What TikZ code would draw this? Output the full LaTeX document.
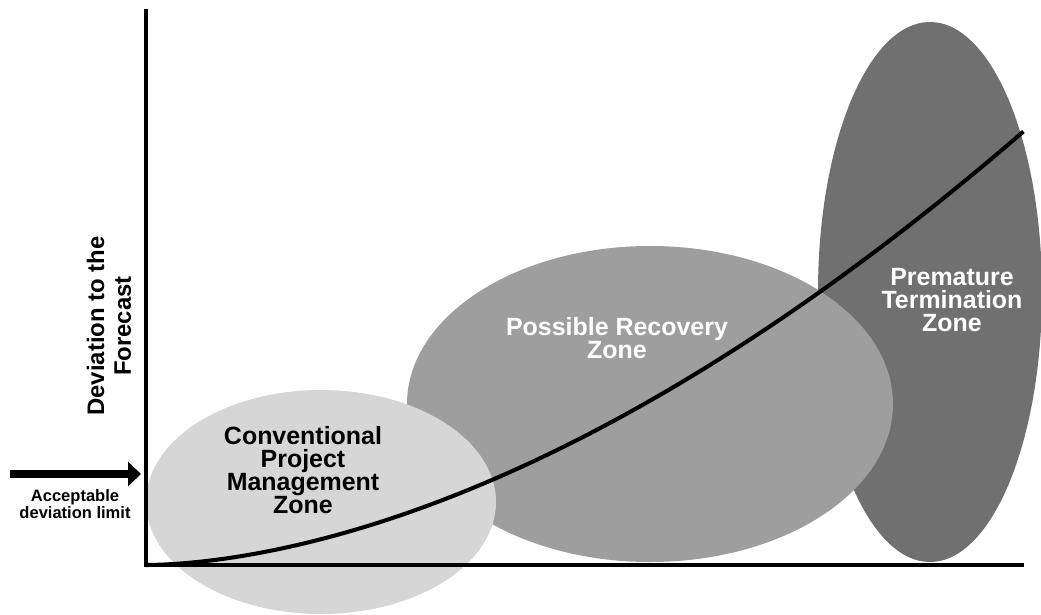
\documentclass[tikz,border=0pt]{standalone}
\usepackage{fontspec}
\setmainfont{Liberation Sans}
\usepackage{xcolor}
\usetikzlibrary{arrows.meta}

\definecolor{zonelight}{RGB}{214,214,214}
\definecolor{zonemid}{RGB}{158,158,158}
\definecolor{zonedark}{RGB}{112,112,112}

\tikzset{
  zonelabel/.style={align=center, font=\fontsize{14.2}{13}\selectfont\bfseries},
  axisline/.style={line width=2.3pt},
}

\begin{document}
\begin{tikzpicture}[x=0.02cm,y=-0.02cm]
            \useasboundingbox (0,0) rectangle (1041,615);
            % the three zones, back to front
            \fill [zonedark] (930,292) ellipse [x radius=112, y radius=270];
            \fill [zonemid] (650,404) ellipse [x radius=243, y radius=158];
            \fill [zonelight] (321,502) ellipse [x radius=175, y radius=112];
            % growth of the deviation
            \draw [line width=2.3pt] plot [domain=0:1, samples=80, smooth]
                ({146+878*\x}, {565-434*\x*sqrt(\x)*sqrt(sqrt(\x))});
            % axes
            \coordinate (ytop) at (146,9);
            \coordinate (origin) at (146,565);
            \coordinate (xend) at (1024,565);
            \draw [axisline] (ytop) -- (origin) -- (xend);
            \node [rotate=90, align=center, font=\fontsize{13.6}{15.3}\selectfont\bfseries] (ylabel) at (109,326) {Deviation to the\\Forecast};
            % deviation limit marker
            \coordinate (limit) at (10,474);
            \coordinate (limittip) at (141,474);
            \draw [line width=0.16cm, -{Triangle[length=0.26cm, width=0.48cm]}] (limit) -- (limittip);
            \node [align=center, font=\fontsize{9.4}{8.2}\selectfont\bfseries] (limitlabel) at (75,504) {Acceptable\\deviation limit};
            % zone names
            \node [zonelabel] (conventional) at (303,470) {Conventional\\Project\\Management\\Zone};
            \node [zonelabel, text=white] (recovery) at (617,338) {Possible Recovery\\Zone};
            \node [zonelabel, text=white] (termination) at (952,300) {Premature\\Termination\\Zone};
        \end{tikzpicture}
\end{document}
